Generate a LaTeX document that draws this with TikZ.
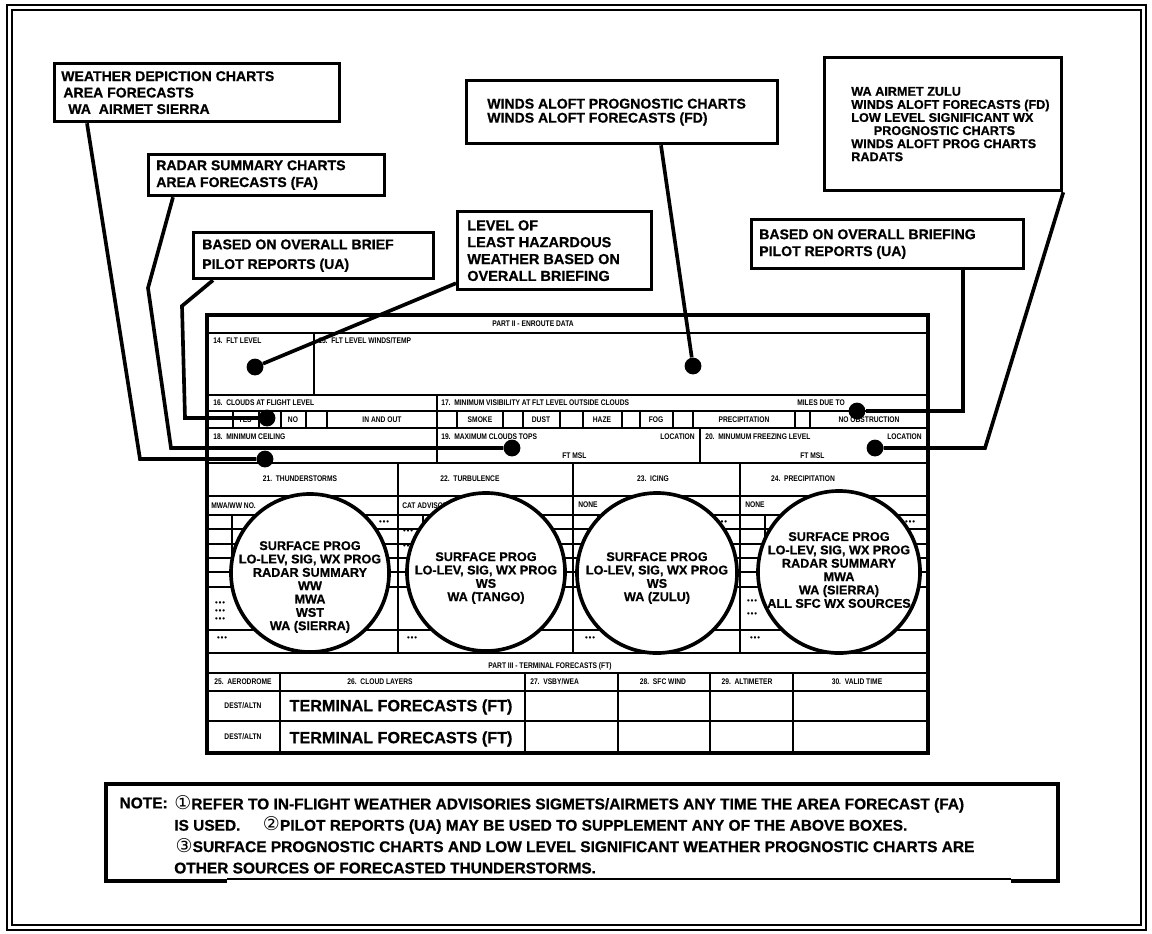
\documentclass[tikz,border=0pt]{standalone}
\usepackage{fontspec}
\setmainfont{Liberation Sans}[BoldFeatures={FakeBold=0.8}]
\newfontfamily\formfont[FakeStretch=0.82]{Liberation Sans}
\newfontfamily\numfont{DejaVu Sans}
\newcommand{\ringnum}[1]{{\numfont\mdseries\fontsize{13.5}{15.2}\selectfont\char\numexpr"245F+#1\relax}}
\usetikzlibrary{positioning, calc}

\begin{document}
\begin{tikzpicture}[x=0.025cm, y=-0.025cm,
    callout/.style={draw, line width=2.3pt, anchor=north west, inner sep=0pt},
    calltext/.style={align=left, inner sep=0pt, font=\bfseries\fontsize{10}{12}\selectfont},
    leader/.style={line width=2.6pt},
    pin/.style={circle, fill, inner sep=0pt, minimum size=0.42cm},
    heavy/.style={line width=2.4pt},
    rule/.style={line width=1.5pt},
    fine/.style={line width=0.8pt},
    lbl/.style={inner sep=0pt, font=\formfont\bfseries\fontsize{5.8}{6}\selectfont},
    speck/.style={inner sep=0pt, font=\bfseries\fontsize{5}{5}\selectfont},
    bubble/.style={draw, circle, fill=white, line width=2.6pt, inner sep=0pt},
    bubbletext/.style={align=center, inner sep=0pt, font=\bfseries\fontsize{9}{9.5}\selectfont},
    bigtext/.style={inner sep=0pt, font=\bfseries\fontsize{11.5}{12}\selectfont},
    notetext/.style={align=left, inner sep=0pt, font=\bfseries\fontsize{11}{15.2}\selectfont}
]
  \useasboundingbox (0,0) rectangle (1152,934);

  % Page frame
  \draw[line width=1.2pt] (7,5) rectangle (1146,930);
  \draw[line width=1pt] (12,10) rectangle (1141,925);

  % Callout boxes
  \node[callout, minimum width=7.125cm, minimum height=1.45cm] (depict) at (53,62) {};
  \node[calltext, right=0.2cm of depict.west, font=\bfseries\fontsize{10}{11.7}\selectfont] (depicttxt)
    {WEATHER DEPICTION CHARTS\\\hspace{1.5pt}AREA FORECASTS\\\hspace{5pt}WA\ \ AIRMET SIERRA};

  \node[callout, minimum width=5.9cm, minimum height=1.025cm] (radar) at (147,153) {};
  \node[calltext, right=0.225cm of radar.west] (radartxt) {RADAR SUMMARY CHARTS\\AREA FORECASTS (FA)};

  \node[callout, minimum width=6cm, minimum height=1.15cm] (brief) at (192,231) {};
  \node[calltext, right=0.25cm of brief.west, font=\bfseries\fontsize{10}{14}\selectfont] (brieftxt)
    {BASED ON OVERALL BRIEF\\PILOT REPORTS (UA)};

  \node[callout, minimum width=4.85cm, minimum height=1.95cm] (hazard) at (456,210) {};
  \node[calltext, right=0.275cm of hazard.west, font=\bfseries\fontsize{10.3}{12}\selectfont] (hazardtxt)
    {LEVEL OF\\LEAST HAZARDOUS\\WEATHER BASED ON\\OVERALL BRIEFING};

  \node[callout, minimum width=7.775cm, minimum height=1.575cm] (windsfd) at (465,79) {};
  \node[calltext, right=0.55cm of windsfd.west, font=\bfseries\fontsize{10}{10}\selectfont] (windsfdtxt)
    {WINDS ALOFT PROGNOSTIC CHARTS\\WINDS ALOFT FORECASTS (FD)};

  \node[callout, minimum width=5.925cm, minimum height=3.325cm] (zulu) at (823,56) {};
  \node[calltext, right=0.7cm of zulu.west, font=\bfseries\fontsize{9}{9.3}\selectfont] (zulutxt)
    {WA AIRMET ZULU\\WINDS ALOFT FORECASTS (FD)\\LOW LEVEL SIGNIFICANT WX\\\hspace{16pt}PROGNOSTIC CHARTS\\WINDS ALOFT PROG CHARTS\\RADATS};

  \node[callout, minimum width=6.8cm, minimum height=1.225cm] (briefing) at (750,218) {};
  \node[calltext, right=0.225cm of briefing.west] (briefingtxt)
    {BASED ON OVERALL BRIEFING\\PILOT REPORTS (UA)};

  % Form outline and rows
  \draw[heavy] (207,315) rectangle (928,753);
  \foreach \y in {333,395,411,428,463,496,653,673,691,721}
    \draw[rule] (207,\y) -- (928,\y);
  \draw[fine] (207,515) -- (928,515);
  \draw[rule] (314,333) -- (314,395);
  \draw[rule] (437,395) -- (437,463);
  \draw[rule] (700,428) -- (700,463);
  \foreach \x in {398,573,740}
    \draw[rule] (\x,463) -- (\x,653);
  \foreach \x in {280,525,618,710,793}
    \draw[rule] (\x,673) -- (\x,753);
  \foreach \x in {233,259,281,306,327,457,503,523,560,583,622,640,673,693,795,810}
    \draw[rule] (\x,411) -- (\x,428);

  % Small boxes inside the hazard columns
  \foreach \a/\b in {207/398, 398/573, 573/740, 740/928} {
    \foreach \y in {529,544,558,572,587}
      \draw[fine] (\a,\y) -- (\b,\y);
    \draw[fine] (\a+25,515) -- (\a+25,587);
    \draw[fine] (\a,630) -- (\b,630);
  }
  \foreach \x/\y [count=\i] in {220/603, 220/611, 220/619, 222/638, 384/522, 408/531, 408/546,
      412/638, 590/638, 722/522, 752/601, 752/614, 755/638, 910/522}
    \node[speck] (mk\i) at (\x,\y) {\textbullet\,\textbullet\,\textbullet};

  % Form labels
  \node[lbl] (t0) at (533,324) {PART II - ENROUTE DATA};
  \node[lbl, anchor=west] (t14) at (213,341) {14.\ \ FLT LEVEL};
  \node[lbl, anchor=west] (t15) at (318,341) {15.\ \ FLT LEVEL WINDS/TEMP};
  \node[lbl, anchor=west] (t16) at (213,403) {16.\ \ CLOUDS AT FLIGHT LEVEL};
  \node[lbl, anchor=west] (t17) at (441,403) {17.\ \ MINIMUM VISIBILITY AT FLT LEVEL OUTSIDE CLOUDS};
  \node[lbl, anchor=east] (tmiles) at (845,403) {MILES DUE TO};
  \foreach \x/\t [count=\i] in {245/YES, 293/NO, 382/IN AND OUT, 480/SMOKE, 541/DUST, 602/HAZE,
      656/FOG, 744/PRECIPITATION, 869/NO OBSTRUCTION}
    \node[lbl] (ck\i) at (\x,420) {\t};
  \node[lbl, anchor=west] (t18) at (213,437) {18.\ \ MINIMUM CEILING};
  \node[lbl, anchor=west] (t19) at (441,437) {19.\ \ MAXIMUM CLOUDS TOPS};
  \node[lbl, anchor=east] (loc19) at (695,437) {LOCATION};
  \node[lbl, anchor=west] (ft19) at (562,456) {FT MSL};
  \node[lbl, anchor=west] (t20) at (705,437) {20.\ \ MINUMUM FREEZING LEVEL};
  \node[lbl, anchor=east] (loc20) at (922,437) {LOCATION};
  \node[lbl, anchor=west] (ft20) at (800,456) {FT MSL};

  \node[lbl] (t21) at (300,479) {21.\ \ THUNDERSTORMS};
  \node[lbl] (t22) at (470,479) {22.\ \ TURBULENCE};
  \node[lbl] (t23) at (653,479) {23.\ \ ICING};
  \node[lbl] (t24) at (803,479) {24.\ \ PRECIPITATION};
  \node[lbl, anchor=west] (s21) at (211,506) {MWA/WW NO.};
  \node[lbl, anchor=west] (s22) at (402,506) {CAT ADVISORY};
  \node[lbl, anchor=west] (s23) at (578,505) {NONE};
  \node[lbl, anchor=west] (s24) at (745,505) {NONE};

  \node[lbl] (t3) at (550,666) {PART III - TERMINAL FORECASTS (FT)};
  \node[lbl] (t25) at (243,682) {25.\ \ AERODROME};
  \node[lbl] (t26) at (380,682) {26.\ \ CLOUD LAYERS};
  \node[lbl, anchor=west] (t27) at (530,682) {27.\ \ VSBY/WEA};
  \node[lbl] (t28) at (663,682) {28.\ \ SFC WIND};
  \node[lbl] (t29) at (747,682) {29.\ \ ALTIMETER};
  \node[lbl] (t30) at (857,682) {30.\ \ VALID TIME};
  \node[lbl] (dest1) at (243,706) {DEST/ALTN};
  \node[lbl] (dest2) at (243,737) {DEST/ALTN};
  \node[bigtext] (ft1) at (401,707) {TERMINAL FORECASTS (FT)};
  \node[bigtext] (ft2) at (401,739) {TERMINAL FORECASTS (FT)};

  % Source circles
  \node[bubble, minimum size=3.95cm] (ts) at (310,573) {};
  \node[bubble, minimum size=3.95cm] (tb) at (486,572) {};
  \node[bubble, minimum size=4cm] (ic) at (657,573) {};
  \node[bubble, minimum size=4.05cm] (pr) at (839,572) {};
  \node[bubbletext] (tstxt) at (310,587)
    {SURFACE PROG\\LO-LEV, SIG, WX PROG\\RADAR SUMMARY\\WW\\MWA\\WST\\WA (SIERRA)};
  \node[bubbletext] (tbtxt) at (486,578)
    {SURFACE PROG\\LO-LEV, SIG, WX PROG\\WS\\WA (TANGO)};
  \node[bubbletext] (ictxt) at (657,578)
    {SURFACE PROG\\LO-LEV, SIG, WX PROG\\WS\\WA (ZULU)};
  \node[bubbletext] (prtxt) at (839,570)
    {SURFACE PROG\\LO-LEV, SIG, WX PROG\\RADAR SUMMARY\\MWA\\WA (SIERRA)\\ALL SFC WX SOURCES};

  % Pins on the form
  \node[pin] (d14) at (255,367) {};
  \node[pin] (d15) at (693,366) {};
  \node[pin] (d16) at (267,418) {};
  \node[pin] (d17) at (857,411) {};
  \node[pin] (d18) at (265,459) {};
  \node[pin] (d19) at (512,448) {};
  \node[pin] (d20) at (875,448) {};

  % Leader lines
  \draw[leader] ($(depict.south west)+(34,0)$) -- (140,459) -- (d18);
  \draw[leader] ($(radar.south west)+(26,0)$) -- (148,288) -- (171,448) -- (d19);
  \draw[leader] ($(brief.south west)+(21,0)$) -- (182,306) -- (185,418) -- (d16);
  \draw[leader] ($(hazard.south west)+(0,-8)$) -- (d14);
  \draw[leader] ($(windsfd.south west)+(196,0)$) -- (d15);
  \draw[leader] (zulu.south east) -- (985,448) -- (d20);
  \draw[leader] ($(briefing.south west)+(213,0)$) -- (963,411) -- (d17);

  % Note box
  \draw[rule] (227,879) -- (1011,879);
  \draw[heavy] (1011,881) -- (1058,881) -- (1058,784) -- (106,784) -- (106,881) -- (227,881);
  \node[notetext, anchor=east] (notehead) at (168,803) {NOTE:};
  \node[notetext, anchor=north west] (notebody) at (174,795)
    {\ringnum{1}REFER TO IN-FLIGHT WEATHER ADVISORIES SIGMETS/AIRMETS ANY TIME THE AREA FORECAST (FA)\\
     IS USED.\hspace{16pt}\ringnum{2}PILOT REPORTS (UA) MAY BE USED TO SUPPLEMENT ANY OF THE ABOVE BOXES.\\
     \hspace{1pt}\ringnum{3}SURFACE PROGNOSTIC CHARTS AND LOW LEVEL SIGNIFICANT WEATHER PROGNOSTIC CHARTS ARE\\
     OTHER SOURCES OF FORECASTED THUNDERSTORMS.};
\end{tikzpicture}
\end{document}
